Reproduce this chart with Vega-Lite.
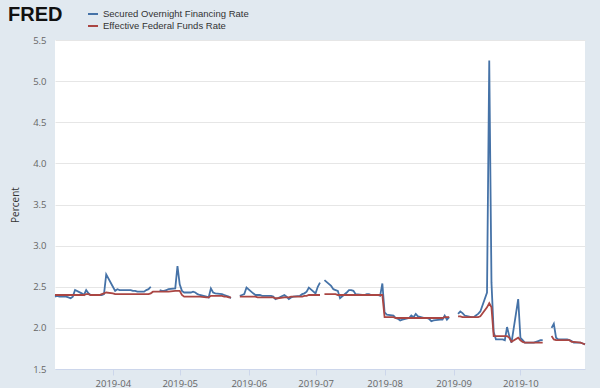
{
  "$schema": "https://vega.github.io/schema/vega-lite/v6.json",
  "width": 530,
  "height": 329,
  "autosize": {"type": "none"},
  "padding": {"left": 55, "top": 40, "right": 15, "bottom": 19},
  "background": "#e1e9f0",
  "config": {"view": {"fill": "white", "stroke": null}},
  "title": {"text": "FRED", "anchor": "start", "frame": "group", "orient": "top", "font": "Liberation Sans", "fontSize": 20, "fontWeight": "bold", "color": "#111111", "dx": -47, "offset": 0, "baseline": "alphabetic", "dy": 33},
  "data": {"values": [
    {"date": "2019-03-06", "SOFR": 2.38, "EFFR": 2.40},
    {"date": "2019-03-07", "SOFR": 2.39, "EFFR": 2.40},
    {"date": "2019-03-08", "SOFR": 2.38, "EFFR": 2.40},
    {"date": "2019-03-11", "SOFR": 2.38, "EFFR": 2.40},
    {"date": "2019-03-12", "SOFR": 2.37, "EFFR": 2.40},
    {"date": "2019-03-13", "SOFR": 2.36, "EFFR": 2.40},
    {"date": "2019-03-14", "SOFR": 2.38, "EFFR": 2.40},
    {"date": "2019-03-15", "SOFR": 2.46, "EFFR": 2.40},
    {"date": "2019-03-18", "SOFR": 2.42, "EFFR": 2.40},
    {"date": "2019-03-19", "SOFR": 2.40, "EFFR": 2.40},
    {"date": "2019-03-20", "SOFR": 2.46, "EFFR": 2.41},
    {"date": "2019-03-21", "SOFR": 2.42, "EFFR": 2.41},
    {"date": "2019-03-22", "SOFR": 2.40, "EFFR": 2.40},
    {"date": "2019-03-25", "SOFR": 2.40, "EFFR": 2.40},
    {"date": "2019-03-26", "SOFR": 2.40, "EFFR": 2.40},
    {"date": "2019-03-27", "SOFR": 2.40, "EFFR": 2.41},
    {"date": "2019-03-28", "SOFR": 2.41, "EFFR": 2.42},
    {"date": "2019-03-29", "SOFR": 2.65, "EFFR": 2.43},
    {"date": "2019-04-01", "SOFR": 2.50, "EFFR": 2.42},
    {"date": "2019-04-02", "SOFR": 2.45, "EFFR": 2.41},
    {"date": "2019-04-03", "SOFR": 2.47, "EFFR": 2.41},
    {"date": "2019-04-04", "SOFR": 2.46, "EFFR": 2.41},
    {"date": "2019-04-05", "SOFR": 2.46, "EFFR": 2.41},
    {"date": "2019-04-08", "SOFR": 2.46, "EFFR": 2.41},
    {"date": "2019-04-09", "SOFR": 2.46, "EFFR": 2.41},
    {"date": "2019-04-10", "SOFR": 2.45, "EFFR": 2.41},
    {"date": "2019-04-11", "SOFR": 2.45, "EFFR": 2.41},
    {"date": "2019-04-12", "SOFR": 2.44, "EFFR": 2.41},
    {"date": "2019-04-15", "SOFR": 2.44, "EFFR": 2.41},
    {"date": "2019-04-16", "SOFR": 2.46, "EFFR": 2.41},
    {"date": "2019-04-17", "SOFR": 2.47, "EFFR": 2.41},
    {"date": "2019-04-18", "SOFR": 2.50, "EFFR": 2.42},
    {"date": "2019-04-19", "SOFR": null, "EFFR": 2.44},
    {"date": "2019-04-22", "SOFR": 2.46, "EFFR": 2.44},
    {"date": "2019-04-23", "SOFR": 2.45, "EFFR": 2.44},
    {"date": "2019-04-24", "SOFR": 2.45, "EFFR": 2.44},
    {"date": "2019-04-25", "SOFR": 2.46, "EFFR": 2.44},
    {"date": "2019-04-26", "SOFR": 2.47, "EFFR": 2.44},
    {"date": "2019-04-29", "SOFR": 2.48, "EFFR": 2.45},
    {"date": "2019-04-30", "SOFR": 2.75, "EFFR": 2.45},
    {"date": "2019-05-01", "SOFR": 2.53, "EFFR": 2.45},
    {"date": "2019-05-02", "SOFR": 2.45, "EFFR": 2.40},
    {"date": "2019-05-03", "SOFR": 2.43, "EFFR": 2.38},
    {"date": "2019-05-06", "SOFR": 2.43, "EFFR": 2.38},
    {"date": "2019-05-07", "SOFR": 2.44, "EFFR": 2.38},
    {"date": "2019-05-08", "SOFR": 2.43, "EFFR": 2.38},
    {"date": "2019-05-09", "SOFR": 2.41, "EFFR": 2.38},
    {"date": "2019-05-10", "SOFR": 2.40, "EFFR": 2.38},
    {"date": "2019-05-13", "SOFR": 2.38, "EFFR": 2.37},
    {"date": "2019-05-14", "SOFR": 2.37, "EFFR": 2.37},
    {"date": "2019-05-15", "SOFR": 2.48, "EFFR": 2.39},
    {"date": "2019-05-16", "SOFR": 2.43, "EFFR": 2.39},
    {"date": "2019-05-17", "SOFR": 2.42, "EFFR": 2.39},
    {"date": "2019-05-20", "SOFR": 2.41, "EFFR": 2.39},
    {"date": "2019-05-21", "SOFR": 2.40, "EFFR": 2.38},
    {"date": "2019-05-22", "SOFR": 2.39, "EFFR": 2.38},
    {"date": "2019-05-23", "SOFR": 2.38, "EFFR": 2.37},
    {"date": "2019-05-24", "SOFR": 2.36, "EFFR": 2.37},
    {"date": "2019-05-27", "SOFR": null, "EFFR": null},
    {"date": "2019-05-28", "SOFR": 2.39, "EFFR": 2.38},
    {"date": "2019-05-29", "SOFR": 2.40, "EFFR": 2.38},
    {"date": "2019-05-30", "SOFR": 2.41, "EFFR": 2.38},
    {"date": "2019-05-31", "SOFR": 2.49, "EFFR": 2.38},
    {"date": "2019-06-03", "SOFR": 2.42, "EFFR": 2.38},
    {"date": "2019-06-04", "SOFR": 2.40, "EFFR": 2.38},
    {"date": "2019-06-05", "SOFR": 2.40, "EFFR": 2.37},
    {"date": "2019-06-06", "SOFR": 2.40, "EFFR": 2.37},
    {"date": "2019-06-07", "SOFR": 2.39, "EFFR": 2.37},
    {"date": "2019-06-10", "SOFR": 2.39, "EFFR": 2.37},
    {"date": "2019-06-11", "SOFR": 2.39, "EFFR": 2.37},
    {"date": "2019-06-12", "SOFR": 2.38, "EFFR": 2.37},
    {"date": "2019-06-13", "SOFR": 2.35, "EFFR": 2.36},
    {"date": "2019-06-14", "SOFR": 2.36, "EFFR": 2.36},
    {"date": "2019-06-17", "SOFR": 2.40, "EFFR": 2.37},
    {"date": "2019-06-18", "SOFR": 2.38, "EFFR": 2.37},
    {"date": "2019-06-19", "SOFR": 2.35, "EFFR": 2.37},
    {"date": "2019-06-20", "SOFR": 2.37, "EFFR": 2.38},
    {"date": "2019-06-21", "SOFR": 2.38, "EFFR": 2.38},
    {"date": "2019-06-24", "SOFR": 2.39, "EFFR": 2.38},
    {"date": "2019-06-25", "SOFR": 2.41, "EFFR": 2.38},
    {"date": "2019-06-26", "SOFR": 2.42, "EFFR": 2.39},
    {"date": "2019-06-27", "SOFR": 2.44, "EFFR": 2.39},
    {"date": "2019-06-28", "SOFR": 2.49, "EFFR": 2.40},
    {"date": "2019-07-01", "SOFR": 2.42, "EFFR": 2.40},
    {"date": "2019-07-02", "SOFR": 2.50, "EFFR": 2.40},
    {"date": "2019-07-03", "SOFR": 2.55, "EFFR": 2.40},
    {"date": "2019-07-04", "SOFR": null, "EFFR": null},
    {"date": "2019-07-05", "SOFR": 2.58, "EFFR": 2.41},
    {"date": "2019-07-08", "SOFR": 2.51, "EFFR": 2.41},
    {"date": "2019-07-09", "SOFR": 2.47, "EFFR": 2.41},
    {"date": "2019-07-10", "SOFR": 2.46, "EFFR": 2.41},
    {"date": "2019-07-11", "SOFR": 2.45, "EFFR": 2.40},
    {"date": "2019-07-12", "SOFR": 2.36, "EFFR": 2.40},
    {"date": "2019-07-15", "SOFR": 2.43, "EFFR": 2.40},
    {"date": "2019-07-16", "SOFR": 2.46, "EFFR": 2.40},
    {"date": "2019-07-17", "SOFR": 2.46, "EFFR": 2.40},
    {"date": "2019-07-18", "SOFR": 2.45, "EFFR": 2.40},
    {"date": "2019-07-19", "SOFR": 2.41, "EFFR": 2.40},
    {"date": "2019-07-22", "SOFR": 2.40, "EFFR": 2.40},
    {"date": "2019-07-23", "SOFR": 2.40, "EFFR": 2.40},
    {"date": "2019-07-24", "SOFR": 2.41, "EFFR": 2.40},
    {"date": "2019-07-25", "SOFR": 2.41, "EFFR": 2.40},
    {"date": "2019-07-26", "SOFR": 2.40, "EFFR": 2.40},
    {"date": "2019-07-29", "SOFR": 2.40, "EFFR": 2.40},
    {"date": "2019-07-30", "SOFR": 2.39, "EFFR": 2.40},
    {"date": "2019-07-31", "SOFR": 2.54, "EFFR": 2.40},
    {"date": "2019-08-01", "SOFR": 2.19, "EFFR": 2.13},
    {"date": "2019-08-02", "SOFR": 2.16, "EFFR": 2.13},
    {"date": "2019-08-05", "SOFR": 2.15, "EFFR": 2.13},
    {"date": "2019-08-06", "SOFR": 2.12, "EFFR": 2.12},
    {"date": "2019-08-07", "SOFR": 2.11, "EFFR": 2.12},
    {"date": "2019-08-08", "SOFR": 2.09, "EFFR": 2.12},
    {"date": "2019-08-09", "SOFR": 2.10, "EFFR": 2.12},
    {"date": "2019-08-12", "SOFR": 2.12, "EFFR": 2.12},
    {"date": "2019-08-13", "SOFR": 2.15, "EFFR": 2.12},
    {"date": "2019-08-14", "SOFR": 2.13, "EFFR": 2.12},
    {"date": "2019-08-15", "SOFR": 2.17, "EFFR": 2.12},
    {"date": "2019-08-16", "SOFR": 2.14, "EFFR": 2.12},
    {"date": "2019-08-19", "SOFR": 2.12, "EFFR": 2.12},
    {"date": "2019-08-20", "SOFR": 2.12, "EFFR": 2.12},
    {"date": "2019-08-21", "SOFR": 2.11, "EFFR": 2.12},
    {"date": "2019-08-22", "SOFR": 2.08, "EFFR": 2.12},
    {"date": "2019-08-23", "SOFR": 2.09, "EFFR": 2.12},
    {"date": "2019-08-26", "SOFR": 2.10, "EFFR": 2.12},
    {"date": "2019-08-27", "SOFR": 2.10, "EFFR": 2.12},
    {"date": "2019-08-28", "SOFR": 2.15, "EFFR": 2.13},
    {"date": "2019-08-29", "SOFR": 2.10, "EFFR": 2.13},
    {"date": "2019-08-30", "SOFR": 2.13, "EFFR": 2.13},
    {"date": "2019-09-02", "SOFR": null, "EFFR": null},
    {"date": "2019-09-03", "SOFR": 2.17, "EFFR": 2.14},
    {"date": "2019-09-04", "SOFR": 2.20, "EFFR": 2.14},
    {"date": "2019-09-05", "SOFR": 2.18, "EFFR": 2.13},
    {"date": "2019-09-06", "SOFR": 2.15, "EFFR": 2.13},
    {"date": "2019-09-09", "SOFR": 2.13, "EFFR": 2.13},
    {"date": "2019-09-10", "SOFR": 2.13, "EFFR": 2.13},
    {"date": "2019-09-11", "SOFR": 2.15, "EFFR": 2.13},
    {"date": "2019-09-12", "SOFR": 2.17, "EFFR": 2.13},
    {"date": "2019-09-13", "SOFR": 2.20, "EFFR": 2.14},
    {"date": "2019-09-16", "SOFR": 2.43, "EFFR": 2.25},
    {"date": "2019-09-17", "SOFR": 5.25, "EFFR": 2.30},
    {"date": "2019-09-18", "SOFR": 2.55, "EFFR": 2.25},
    {"date": "2019-09-19", "SOFR": 1.95, "EFFR": 1.90},
    {"date": "2019-09-20", "SOFR": 1.86, "EFFR": 1.90},
    {"date": "2019-09-23", "SOFR": 1.86, "EFFR": 1.90},
    {"date": "2019-09-24", "SOFR": 1.85, "EFFR": 1.90},
    {"date": "2019-09-25", "SOFR": 2.01, "EFFR": 1.90},
    {"date": "2019-09-26", "SOFR": 1.90, "EFFR": 1.88},
    {"date": "2019-09-27", "SOFR": 1.82, "EFFR": 1.83},
    {"date": "2019-09-30", "SOFR": 2.35, "EFFR": 1.88},
    {"date": "2019-10-01", "SOFR": 1.88, "EFFR": 1.85},
    {"date": "2019-10-02", "SOFR": 1.85, "EFFR": 1.83},
    {"date": "2019-10-03", "SOFR": 1.82, "EFFR": 1.82},
    {"date": "2019-10-04", "SOFR": 1.82, "EFFR": 1.82},
    {"date": "2019-10-07", "SOFR": 1.82, "EFFR": 1.82},
    {"date": "2019-10-08", "SOFR": 1.83, "EFFR": 1.82},
    {"date": "2019-10-09", "SOFR": 1.84, "EFFR": 1.82},
    {"date": "2019-10-10", "SOFR": 1.85, "EFFR": 1.82},
    {"date": "2019-10-11", "SOFR": 1.85, "EFFR": 1.82},
    {"date": "2019-10-14", "SOFR": null, "EFFR": null},
    {"date": "2019-10-15", "SOFR": 2.00, "EFFR": 1.90},
    {"date": "2019-10-16", "SOFR": 2.05, "EFFR": 1.86},
    {"date": "2019-10-17", "SOFR": 1.88, "EFFR": 1.85},
    {"date": "2019-10-18", "SOFR": 1.86, "EFFR": 1.85},
    {"date": "2019-10-21", "SOFR": 1.86, "EFFR": 1.85},
    {"date": "2019-10-22", "SOFR": 1.86, "EFFR": 1.85},
    {"date": "2019-10-23", "SOFR": 1.85, "EFFR": 1.85},
    {"date": "2019-10-24", "SOFR": 1.84, "EFFR": 1.83},
    {"date": "2019-10-25", "SOFR": 1.82, "EFFR": 1.83},
    {"date": "2019-10-28", "SOFR": 1.82, "EFFR": 1.82},
    {"date": "2019-10-29", "SOFR": 1.81, "EFFR": 1.81},
    {"date": "2019-10-30", "SOFR": 1.80, "EFFR": 1.80}
  ]},
  "transform": [{"fold": ["SOFR", "EFFR"], "as": ["series", "rate"]}],
  "encoding": {
    "x": {
      "field": "date", "type": "temporal",
      "scale": {"type": "utc", "nice": false},
      "axis": {"title": null, "format": "%Y-%m", "tickCount": {"interval": "month", "step": 1}, "grid": false, "domainColor": "#ccd6eb", "tickColor": "#ccd6eb", "tickSize": 6, "labelFont": "Open Sans", "labelFontSize": 9.5, "labelColor": "#666666", "labelPadding": 3}
    },
    "y": {
      "field": "rate", "type": "quantitative",
      "scale": {"domain": [1.5, 5.5], "nice": false, "zero": false},
      "axis": {"title": "Percent", "values": [1.5, 2, 2.5, 3, 3.5, 4, 4.5, 5, 5.5], "format": ".1f", "ticks": false, "domain": false, "gridColor": "#e6e6e6", "labelFont": "Open Sans", "labelFontSize": 9.5, "labelColor": "#666666", "labelPadding": 9, "titleFont": "Open Sans", "titleFontSize": 10, "titleFontWeight": "normal", "titleColor": "#333333", "titlePadding": 12}
    },
    "color": {
      "field": "series", "type": "nominal",
      "scale": {"domain": ["SOFR", "EFFR"], "range": ["#4572a7", "#aa4643"]},
      "legend": {"orient": "none", "legendX": 32, "legendY": -32, "title": null, "symbolType": "stroke", "symbolStrokeWidth": 2, "symbolSize": 100, "labelFont": "Liberation Sans", "labelFontSize": 9.5, "labelColor": "#333333", "rowPadding": 1, "labelOffset": 4, "labelExpr": "datum.value === 'SOFR' ? 'Secured Overnight Financing Rate' : 'Effective Federal Funds Rate'"}
    }
  },
  "layer": [
    {"transform": [{"filter": "datum.series === 'SOFR'"}], "mark": {"type": "line", "strokeWidth": 1.8, "invalid": "break-paths-filter-domains"}},
    {"transform": [{"filter": "datum.series === 'EFFR'"}], "mark": {"type": "line", "strokeWidth": 1.8, "invalid": "break-paths-filter-domains"}}
  ]
}
